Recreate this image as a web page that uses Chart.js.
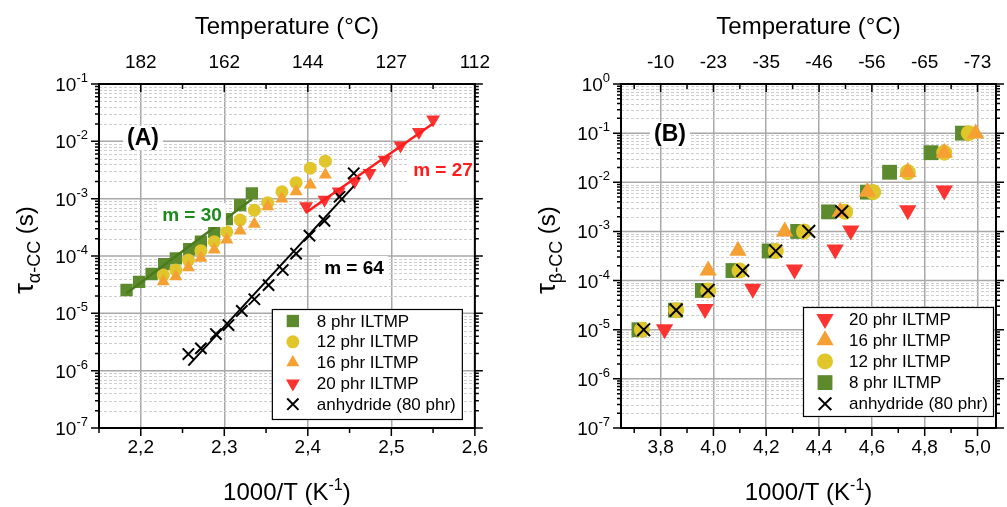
<!DOCTYPE html>
<html>
<head>
<meta charset="utf-8">
<script src="https://cdn.jsdelivr.net/npm/chart.js@4.4.0/dist/chart.umd.min.js"></script>
<style>
  body { margin: 0; background: #fff; }
  #wrap { position: relative; width: 1007px; height: 507px; }
  canvas { position: absolute; top: 0; }
</style>
</head>
<body>
<div id="wrap">
  <canvas id="chartA" width="500" height="507" style="left:0"></canvas>
  <canvas id="chartB" width="507" height="507" style="left:500px"></canvas>
</div>
<script>
// ---------- (A) alpha relaxation ----------
var xTicksA = [2.2, 2.3, 2.4, 2.5, 2.6];
var tempLabelsA = ['182', '162', '144', '127', '112'];

var a8x = [2.183, 2.198, 2.213, 2.228, 2.242, 2.258, 2.272, 2.288, 2.303, 2.319, 2.333];
var a8y = [2.55e-5, 3.55e-5, 4.85e-5, 7.2e-5, 9.1e-5, 1.31e-4, 1.78e-4, 2.65e-4, 4.4e-4, 7.7e-4, 1.24e-3];

var a12x = [2.227, 2.242, 2.257, 2.272, 2.288, 2.303, 2.319, 2.336, 2.352, 2.369, 2.386, 2.403, 2.421];
var a12y = [4.65e-5, 5.7e-5, 8.5e-5, 1.24e-4, 1.78e-4, 2.65e-4, 4.25e-4, 6.3e-4, 8.5e-4, 1.32e-3, 1.9e-3, 3.4e-3, 4.5e-3];

var a16x = [2.227, 2.242, 2.257, 2.272, 2.288, 2.303, 2.319, 2.336, 2.352, 2.369, 2.386, 2.403, 2.421];
var a16y = [3.6e-5, 4.4e-5, 6.3e-5, 9.2e-5, 1.28e-4, 1.92e-4, 2.75e-4, 3.6e-4, 7.3e-4, 1.0e-3, 1.34e-3, 1.75e-3, 2.6e-3];

var a20x = [2.398, 2.420, 2.437, 2.456, 2.474, 2.492, 2.511, 2.533, 2.550];
var a20y = [7.4e-4, 9.6e-4, 1.34e-3, 2.0e-3, 2.8e-3, 4.75e-3, 8.5e-3, 1.45e-2, 2.4e-2];

var aAnhX = [2.257, 2.272, 2.290, 2.305, 2.321, 2.336, 2.353, 2.370, 2.386, 2.402, 2.420, 2.438, 2.455];
var aAnhY = [1.95e-6, 2.45e-6, 4.35e-6, 6.25e-6, 1.1e-5, 1.76e-5, 3.1e-5, 5.7e-5, 1.1e-4, 2.26e-4, 4.1e-4, 1.08e-3, 2.77e-3];

// ---------- (B) beta relaxation ----------
var xTicksB = [3.8, 4.0, 4.2, 4.4, 4.6, 4.8, 5.0];
var tempLabelsB = ['-10', '-23', '-35', '-46', '-56', '-65', '-73'];

var b20x = [3.815, 3.968, 4.149, 4.307, 4.461, 4.520, 4.736, 4.874];
var b20y = [1.02e-5, 2.65e-5, 6.8e-5, 1.68e-4, 4.3e-4, 1.05e-3, 2.7e-3, 6.8e-3];

var b16x = [3.980, 4.093, 4.270, 4.480, 4.583, 4.736, 4.874, 4.993];
var b16y = [1.6e-4, 4.05e-4, 1.0e-3, 2.5e-3, 6.4e-3, 1.62e-2, 4.0e-2, 9.8e-2];

var b12x = [3.729, 3.859, 3.980, 4.099, 4.236, 4.343, 4.499, 4.605, 4.736, 4.874, 4.967];
var b12y = [1.0e-5, 2.5e-5, 6.3e-5, 1.6e-4, 4.0e-4, 1.0e-3, 2.5e-3, 6.3e-3, 1.6e-2, 4.0e-2, 1.0e-1];

var b8x = [3.718, 3.856, 3.958, 4.074, 4.211, 4.319, 4.436, 4.583, 4.667, 4.824, 4.943];
var b8y = [1.0e-5, 2.5e-5, 6.3e-5, 1.6e-4, 4.0e-4, 1.0e-3, 2.5e-3, 6.3e-3, 1.6e-2, 4.0e-2, 1.0e-1];

var bAnhX = [3.736, 3.859, 3.980, 4.111, 4.236, 4.361, 4.486];
var bAnhY = [1.0e-5, 2.5e-5, 6.3e-5, 1.6e-4, 4.0e-4, 1.0e-3, 2.5e-3];

var FONT = '"Liberation Sans", Arial, Helvetica, sans-serif';
var GREEN = '#5d8a2c', YELLOW = '#e0c52b', ORANGE = '#f4a032', RED = '#fb3431';

function pts(xs, ys) {
    return xs.map(function (x, i) { return { x: x, y: ys[i] }; });
}

// droite de régression en log10(tau) sur 1000/T
function fitLine(xs, ys) {
    var n = xs.length, sx = 0, sy = 0, sxx = 0, sxy = 0;
    for (var i = 0; i < n; i++) {
        var ly = Math.log10(ys[i]);
        sx += xs[i]; sy += ly; sxx += xs[i] * xs[i]; sxy += xs[i] * ly;
    }
    var b = (n * sxy - sx * sy) / (n * sxx - sx * sx);
    var a = (sy - b * sx) / n;
    var x0 = Math.min.apply(null, xs), x1 = Math.max.apply(null, xs);
    return [{ x: x0, y: Math.pow(10, a + b * x0) }, { x: x1, y: Math.pow(10, a + b * x1) }];
}

function series(label, xs, ys, style, color, radius, order, rotation) {
    var cross = style === 'crossRot';
    return {
        label: label,
        data: pts(xs, ys),
        pointStyle: style,
        pointRadius: radius,
        pointBackgroundColor: color,
        pointBorderColor: cross ? '#000' : color,
        pointBorderWidth: cross ? 2 : 0,
        pointRotation: rotation || 0,
        showLine: false,
        order: order
    };
}

function fitSeries(xs, ys, color, width) {
    return {
        label: '_fit',
        data: fitLine(xs, ys),
        showLine: true,
        borderColor: color,
        borderWidth: width,
        pointRadius: 0,
        order: -1
    };
}

function marker(ctx, ds, x, y) {
    var r = ds.pointRadius;
    ctx.beginPath();
    if (ds.pointStyle === 'rect') {
        var s = r * Math.SQRT1_2;
        ctx.rect(x - s, y - s, 2 * s, 2 * s);
    } else if (ds.pointStyle === 'circle') {
        ctx.arc(x, y, r, 0, Math.PI * 2);
    } else if (ds.pointStyle === 'triangle') {
        var rot = (ds.pointRotation || 0) * Math.PI / 180;
        for (var k = 0; k < 3; k++) {
            var ang = rot + k * 2 * Math.PI / 3;
            var px = x + Math.sin(ang) * r, py = y - Math.cos(ang) * r;
            if (k === 0) ctx.moveTo(px, py); else ctx.lineTo(px, py);
        }
        ctx.closePath();
    } else {
        var c = r * Math.SQRT1_2;
        ctx.moveTo(x - c, y - c); ctx.lineTo(x + c, y + c);
        ctx.moveTo(x + c, y - c); ctx.lineTo(x - c, y + c);
    }
    if (ds.pointStyle === 'crossRot') {
        ctx.strokeStyle = '#000'; ctx.lineWidth = ds.pointBorderWidth; ctx.stroke();
    } else {
        ctx.fillStyle = ds.pointBackgroundColor; ctx.fill();
    }
}

function boxedText(ctx, txt, x, y, font, color) {
    ctx.font = font;
    var w = ctx.measureText(txt).width;
    ctx.fillStyle = '#fff';
    ctx.fillRect(x - w / 2 - 4, y - 12, w + 8, 24);
    ctx.fillStyle = color;
    ctx.textAlign = 'center';
    ctx.textBaseline = 'middle';
    ctx.fillText(txt, x, y + 1);
}

// axes, grille, légende et annotations dessinés à la main
function panelPlugin(p) {
    return {
        id: 'panel',
        beforeDatasetsDraw: function (chart) {
            var ctx = chart.ctx, ca = chart.chartArea, ys = chart.scales.y;
            ctx.save();
            for (var e = p.yMinExp; e < p.yMaxExp; e++) {
                for (var k = 2; k <= 9; k++) {
                    var py = Math.round(ys.getPixelForValue(k * Math.pow(10, e))) + 0.5;
                    ctx.strokeStyle = '#cdcdcd'; ctx.lineWidth = 1; ctx.setLineDash([3, 2]);
                    ctx.beginPath(); ctx.moveTo(ca.left, py); ctx.lineTo(ca.right, py); ctx.stroke();
                }
            }
            ctx.setLineDash([]);
            for (e = p.yMinExp; e <= p.yMaxExp; e++) {
                var pyM = ys.getPixelForValue(Math.pow(10, e));
                ctx.strokeStyle = '#a8a8a8'; ctx.lineWidth = 1.5;
                ctx.beginPath(); ctx.moveTo(ca.left, pyM); ctx.lineTo(ca.right, pyM); ctx.stroke();
            }
            ctx.restore();
        },
        afterDatasetsDraw: function (chart) {
            var ctx = chart.ctx, ca = chart.chartArea, xs = chart.scales.x, ys = chart.scales.y;
            ctx.save();
            // annotations
            p.texts.forEach(function (t) {
                boxedText(ctx, t.text, ca.left + t.dx, ca.top + t.dy, t.font, t.color);
            });
            // légende
            var lg = p.legend;
            var bx = ca.right - lg.fromRight, by = ca.top + lg.dy;
            ctx.fillStyle = '#fff'; ctx.fillRect(bx, by, lg.w, lg.h);
            ctx.strokeStyle = '#000'; ctx.lineWidth = 1.2; ctx.strokeRect(bx + 0.5, by + 0.5, lg.w, lg.h);
            lg.order.forEach(function (name, i) {
                var ds = chart.data.datasets.filter(function (d) { return d.label === name; })[0];
                var yy = by + lg.row0 + i * lg.rowH;
                marker(ctx, ds, bx + lg.mx, yy);
                ctx.fillStyle = '#000'; ctx.font = '17px ' + FONT;
                ctx.textAlign = 'left'; ctx.textBaseline = 'middle';
                ctx.fillText(name, bx + lg.tx, yy + 1);
            });
            // cadre
            ctx.strokeStyle = '#000'; ctx.lineWidth = 2;
            ctx.strokeRect(ca.left, ca.top, ca.right - ca.left, ca.bottom - ca.top);
            // graduations x
            ctx.lineWidth = 1.5;
            for (var v = p.xMinorStart; v <= p.xMax + 1e-9; v += p.xMinorStep) {
                var px = xs.getPixelForValue(v);
                if (px < ca.left - 0.5 || px > ca.right + 0.5) continue;
                var major = p.xTicks.some(function (t) { return Math.abs(t - v) < 1e-6; });
                var len = major ? 8 : 5;
                ctx.beginPath();
                ctx.moveTo(px, ca.top); ctx.lineTo(px, ca.top + len);
                ctx.moveTo(px, ca.bottom); ctx.lineTo(px, ca.bottom + len);
                ctx.stroke();
            }
            // graduations y + étiquettes 10^n
            for (var e = p.yMinExp; e <= p.yMaxExp; e++) {
                for (var k = 1; k <= 9; k++) {
                    if (e === p.yMaxExp && k > 1) break;
                    var py = ys.getPixelForValue(k * Math.pow(10, e));
                    var l = k === 1 ? 8 : 4;
                    ctx.beginPath();
                    ctx.moveTo(ca.left, py); ctx.lineTo(ca.left - l, py);
                    ctx.moveTo(ca.right, py); ctx.lineTo(ca.right + l, py);
                    ctx.stroke();
                }
                var pyL = ys.getPixelForValue(Math.pow(10, e));
                var expTxt = String(e);
                ctx.fillStyle = '#000'; ctx.textAlign = 'left'; ctx.textBaseline = 'alphabetic';
                ctx.font = '13px ' + FONT;
                var ew = ctx.measureText(expTxt).width;
                ctx.font = '19px ' + FONT;
                var bw = ctx.measureText('10').width;
                var xr = ca.left - 11;
                ctx.fillText('10', xr - ew - bw, pyL + 7);
                ctx.font = '13px ' + FONT;
                ctx.fillText(expTxt, xr - ew, pyL - 2);
            }
            // titre axe y : tau indice
            ctx.translate(ca.left - 66, 250);
            ctx.rotate(-Math.PI / 2);
            ctx.fillStyle = '#000'; ctx.textAlign = 'left'; ctx.textBaseline = 'alphabetic';
            ctx.font = '27px ' + FONT; var w1 = ctx.measureText('\u03c4').width;
            ctx.font = '18px ' + FONT; var w2 = ctx.measureText(p.ySub).width;
            ctx.font = '24px ' + FONT; var w3 = ctx.measureText(' (s)').width;
            var x0 = -(w1 + w2 + w3) / 2;
            ctx.font = '27px ' + FONT; ctx.fillText('\u03c4', x0, 0);
            ctx.font = '18px ' + FONT; ctx.fillText(p.ySub, x0 + w1, 7);
            ctx.font = '24px ' + FONT; ctx.fillText(' (s)', x0 + w1 + w2, 0);
            ctx.setTransform(1, 0, 0, 1, 0, 0);
            // titre axe x bas
            var cx = (ca.left + ca.right) / 2;
            ctx.font = '24px ' + FONT; var t1 = ctx.measureText('1000/T (K').width;
            ctx.font = '16px ' + FONT; var t2 = ctx.measureText('-1').width;
            ctx.font = '24px ' + FONT; var t3 = ctx.measureText(')').width;
            var sx = cx - (t1 + t2 + t3) / 2;
            ctx.font = '24px ' + FONT; ctx.fillText('1000/T (K', sx, 500);
            ctx.font = '16px ' + FONT; ctx.fillText('-1', sx + t1, 490);
            ctx.font = '24px ' + FONT; ctx.fillText(')', sx + t1 + t2, 500);
            ctx.restore();
        }
    };
}

function makeChart(id, p) {
    var setTicks = function (s) { s.ticks = p.xTicks.map(function (v) { return { value: v }; }); };
    return new Chart(document.getElementById(id), {
        type: 'scatter',
        data: { datasets: p.datasets },
        options: {
            responsive: false,
            animation: false,
            events: [],
            devicePixelRatio: 1,
            layout: { padding: { left: 0, right: p.rightPad, top: 0, bottom: 0 } },
            plugins: { legend: { display: false }, tooltip: { enabled: false } },
            scales: {
                x: {
                    type: 'linear', position: 'bottom', min: p.xMin, max: p.xMax,
                    afterBuildTicks: setTicks,
                    afterFit: function (s) { s.height = 79; },
                    ticks: {
                        color: '#000', font: { family: FONT, size: 19 }, padding: 8, maxRotation: 0,
                        callback: function (v) { return v.toFixed(1).replace('.', ','); }
                    },
                    grid: { color: '#a8a8a8', lineWidth: 1.5, drawTicks: false },
                    border: { display: false }
                },
                x2: {
                    type: 'linear', position: 'top', min: p.xMin, max: p.xMax,
                    afterBuildTicks: setTicks,
                    afterFit: function (s) { s.height = 84; },
                    ticks: {
                        color: '#000', font: { family: FONT, size: 19 }, padding: 10, maxRotation: 0,
                        callback: function (v, i) { return p.tempLabels[i]; }
                    },
                    grid: { display: false, drawTicks: false },
                    border: { display: false },
                    title: {
                        display: true, text: 'Temperature (\u00b0C)', color: '#000',
                        font: { family: FONT, size: 24 }, padding: { top: 13, bottom: 0 }
                    }
                },
                y: {
                    type: 'logarithmic', position: 'left', min: p.yMin, max: p.yMax,
                    afterFit: function (s) { s.width = p.leftWidth; },
                    ticks: { display: false },
                    grid: { display: false },
                    border: { display: false }
                }
            }
        },
        plugins: [panelPlugin(p)]
    });
}

makeChart('chartA', {
    xMin: 2.15, xMax: 2.6, xTicks: xTicksA, tempLabels: tempLabelsA,
    xMinorStart: 2.15, xMinorStep: 0.05,
    yMin: 1e-7, yMax: 1e-1, yMinExp: -7, yMaxExp: -1,
    leftWidth: 99, rightPad: 17, ySub: '\u03b1-CC',
    datasets: [
        fitSeries(a8x, a8y, '#4b7a1f', 2.5),
        fitSeries(a20x, a20y, '#ff1c1c', 2.5),
        fitSeries(aAnhX, aAnhY, '#000', 2),
        series('anhydride (80 phr)', aAnhX, aAnhY, 'crossRot', '#000', 8, 0),
        series('20 phr ILTMP', a20x, a20y, 'triangle', RED, 8, 1, 180),
        series('16 phr ILTMP', a16x, a16y, 'triangle', ORANGE, 7.5, 2),
        series('12 phr ILTMP', a12x, a12y, 'circle', YELLOW, 6.5, 3),
        series('8 phr ILTMP', a8x, a8y, 'rect', GREEN, 8.7, 4)
    ],
    texts: [
        { text: '(A)', dx: 44, dy: 54, font: 'bold 23px ' + FONT, color: '#000' },
        { text: 'm = 30', dx: 93, dy: 131, font: 'bold 19px ' + FONT, color: '#1c8a1c' },
        { text: 'm = 27', dx: 344, dy: 86, font: 'bold 19px ' + FONT, color: '#ff1c1c' },
        { text: 'm = 64', dx: 255, dy: 184, font: 'bold 19px ' + FONT, color: '#000' }
    ],
    legend: {
        fromRight: 203, dy: 225, w: 190, h: 110, row0: 12, rowH: 20.8, mx: 21, tx: 45,
        order: ['8 phr ILTMP', '12 phr ILTMP', '16 phr ILTMP', '20 phr ILTMP', 'anhydride (80 phr)']
    }
});

makeChart('chartB', {
    xMin: 3.65, xMax: 5.07, xTicks: xTicksB, tempLabels: tempLabelsB,
    xMinorStart: 3.7, xMinorStep: 0.1,
    yMin: 1e-7, yMax: 1, yMinExp: -7, yMaxExp: 0,
    leftWidth: 121, rightPad: 7, ySub: '\u03b2-CC',
    datasets: [
        series('anhydride (80 phr)', bAnhX, bAnhY, 'crossRot', '#000', 9, 0),
        series('20 phr ILTMP', b20x, b20y, 'triangle', RED, 10, 1, 180),
        series('16 phr ILTMP', b16x, b16y, 'triangle', ORANGE, 10, 2),
        series('12 phr ILTMP', b12x, b12y, 'circle', YELLOW, 8, 3),
        series('8 phr ILTMP', b8x, b8y, 'rect', GREEN, 10.5, 4)
    ],
    texts: [
        { text: '(B)', dx: 49, dy: 50, font: 'bold 23px ' + FONT, color: '#000' }
    ],
    legend: {
        fromRight: 193, dy: 223, w: 190, h: 109, row0: 12, rowH: 21.2, mx: 22, tx: 46,
        order: ['20 phr ILTMP', '16 phr ILTMP', '12 phr ILTMP', '8 phr ILTMP', 'anhydride (80 phr)']
    }
});
</script>
</body>
</html>
